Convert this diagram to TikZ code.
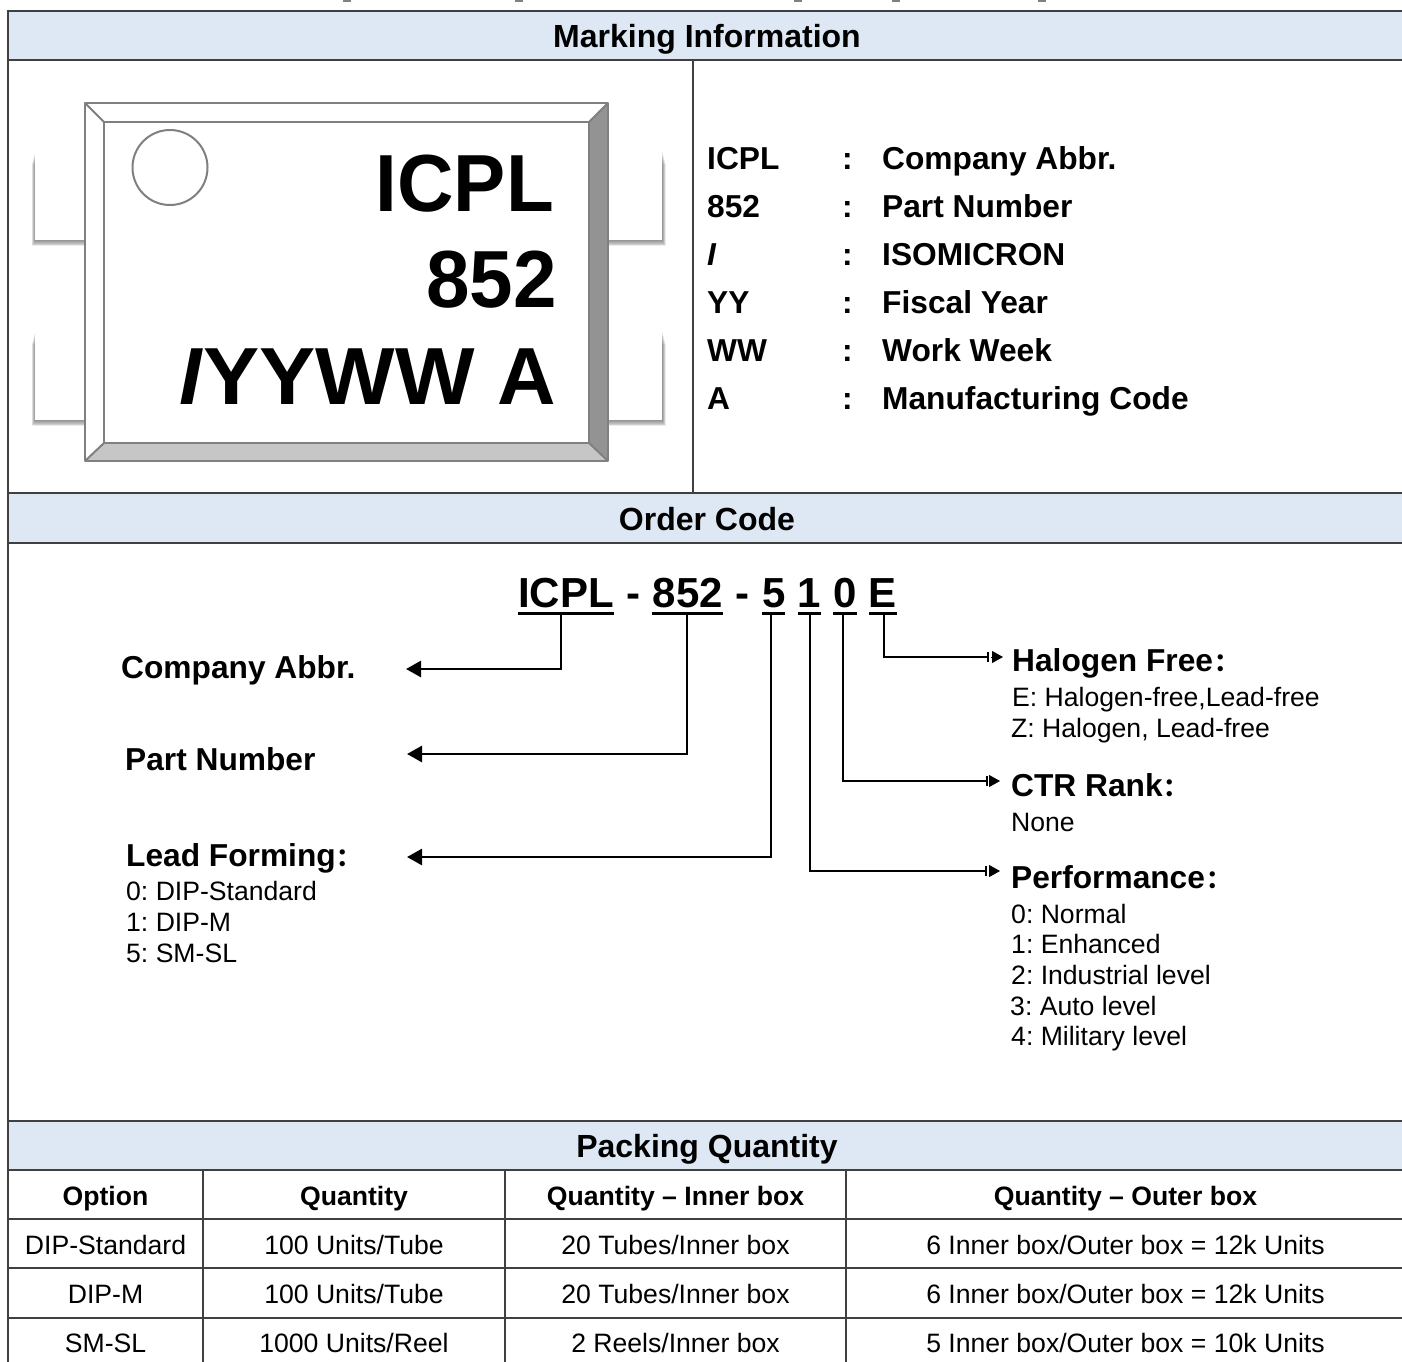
\documentclass[tikz,border=0pt]{standalone}
\usepackage{fontspec}
\setmainfont{Liberation Sans}
\newfontfamily\cjk{Noto Sans CJK SC}
\usetikzlibrary{arrows.meta}
\frenchspacing
\definecolor{bandblue}{HTML}{DDE8F4}
\definecolor{rulegray}{HTML}{404040}
\definecolor{pkggray}{HTML}{808080}
\newcommand{\widecolon}{{\cjk\fontsize{25}{25}\selectfont\kern1pt：}}
\tikzset{
  band/.style={fill=bandblue,draw=rulegray,line width=1.6pt},
  rulegrid/.style={draw=rulegray,line width=1.6pt},
  pkgline/.style={draw=pkggray,line width=2pt,line join=round},
  base/.style={inner sep=0pt,anchor=base west},
  headtxt/.style={inner sep=0pt,anchor=base,font=\bfseries\fontsize{32}{32}\selectfont},
  marktxt/.style={inner sep=0pt,anchor=base east,font=\bfseries\fontsize{81}{81}\selectfont},
  boldtxt/.style={base,font=\bfseries\fontsize{31.7}{32}\selectfont},
  smalltxt/.style={base,font=\fontsize{26.6}{26.6}\selectfont},
  cell/.style={inner sep=0pt,anchor=base,font=\fontsize{26.6}{26.6}\selectfont},
  cellhead/.style={inner sep=0pt,anchor=base,font=\bfseries\fontsize{26.6}{26.6}\selectfont},
  codepart/.style={inner xsep=0pt,inner ysep=6.5pt,anchor=base,text depth=0pt,font=\bfseries\fontsize{42}{42}\selectfont},
  underl/.style={line width=3.5pt},
  toleft/.style={line width=2.7pt,-{Triangle[length=15pt,width=16pt]}},
  stem/.style={line width=2.7pt},
  stembar/.style={line width=2pt},
  tiptri/.style={line width=1pt,-{Triangle[length=11pt,width=12pt]}}
}
\begin{document}
\begin{tikzpicture}[x=1pt,y=-1pt]
    \useasboundingbox (0,0) rectangle (1402,1361);
    % frame and bands
    \fill[white] (0,0) rectangle (1402,1361);
    \foreach \x in {347,519,798,896,1042}
      \fill[gray] (\x-4,0) rectangle (\x+4,1.5);
    \foreach \a/\b in {11/60,493/543,1121/1170}
      \draw[band] (1410,\a) -- (8,\a) -- (8,\b) -- (1410,\b);
    \draw[rulegrid] (8,11) -- (8,1370);
    \draw[rulegrid] (693,60) -- (693,493);
    \foreach \y in {1219,1268,1318}
      \draw[rulegrid] (8,\y) -- (1410,\y);
    \foreach \x in {203,505,846}
      \draw[rulegrid] (\x,1170) -- (\x,1370);
    \node[headtxt] (headMark) at (707,47) {Marking Information};
    \node[headtxt] (headOrder) at (707,530) {Order Code};
    \node[headtxt] (headPack) at (707,1157) {Packing Quantity};
    % pins
    \foreach \y in {150,330} {
      \foreach \s in {1,...,7}
        \fill[black,opacity=0.07] (35-\s*0.5,\y+\s*2) rectangle (86,\y+90+\s*0.9);
      \foreach \s in {1,...,7}
        \fill[black,opacity=0.07] (608,\y+\s*2) rectangle (662+\s*0.5,\y+90+\s*0.9);
      \fill[white] (35,\y) rectangle (86,\y+90);
      \fill[white] (608,\y) rectangle (662,\y+90);
    }
    % package body
    \fill[white] (85,103) rectangle (608,461);
    \fill[gray!85] (608,103) -- (608,461) -- (589,443) -- (589,122) -- cycle;
    \fill[gray!45] (85,461) -- (608,461) -- (589,443) -- (104,443) -- cycle;
    \draw[pkgline] (85,103) rectangle (608,461);
    \draw[pkgline] (104,122) rectangle (589,443);
    \draw[pkgline] (85,103) -- (104,122);
    \draw[pkgline] (608,103) -- (589,122);
    \draw[pkgline] (85,461) -- (104,443);
    \draw[pkgline] (608,461) -- (589,443);
    \draw[pkgline] (170,167.5) circle (37.5);
    \node[marktxt] (markOne) at (554,211) {\scalebox{0.965}[1]{ICPL}};
    \node[marktxt] (markTwo) at (557,307) {\scalebox{0.965}[1]{852}};
    \node[marktxt] (markThree) at (556,404) {\textit{I}\scalebox{1.04}[1]{YYWW} A};
    % marking legend
    \foreach \n/\k/\v [count=\i] in {ICPL/ICPL/Company Abbr.,852/852/Part Number,I/\textit{I}/ISOMICRON,YY/YY/Fiscal Year,WW/WW/Work Week,A/A/Manufacturing Code} {
      \node[boldtxt] (key\n) at (707,121+\i*48) {\k};
      \node[boldtxt] (colon\n) at (842,121+\i*48) {:};
      \node[boldtxt] (val\n) at (882,121+\i*48) {\v};
    }
    % order code
    \node[codepart] (partICPL) at (566,607) {ICPL};
    \node[codepart] (dashA) at (633,607) {-};
    \node[codepart] (part852) at (688,607) {852};
    \node[codepart] (dashB) at (742,607) {-};
    \node[codepart] (partFive) at (774,607) {5};
    \node[codepart] (partOne) at (809,607) {1};
    \node[codepart] (partZero) at (845,607) {0};
    \node[codepart] (partE) at (882,607) {E};
    \foreach \l/\r in {518/614,652/723,762/785,798/821,833/857,869/897}
      \draw[underl] (\l,613.5) -- (\r,613.5);
    \coordinate (tipAbbr) at (406,669);
    \coordinate (tipPart) at (407,754);
    \coordinate (tipLead) at (407,857);
    \draw[toleft] (561,613.5) |- (tipAbbr);
    \draw[toleft] (687,613.5) |- (tipPart);
    \draw[toleft] (771,613.5) |- (tipLead);
    \foreach \n/\s/\b/\t/\y in {Halo/884/988/1003/657,Ctr/843/987/1000/781,Perf/810/986/1000/871} {
      \coordinate (bar\n) at (\b,\y);
      \coordinate (tip\n) at (\t,\y);
      \draw[stem] (\s,613.5) |- (bar\n);
      \draw[stembar] ([yshift=-5pt]bar\n) -- ([yshift=5pt]bar\n);
      \draw[tiptri] ([xshift=3pt]bar\n) -- (tip\n);
    }
    % left labels
    \node[boldtxt] (lblAbbr) at (121,678) {Company Abbr.};
    \node[boldtxt] (lblPart) at (125,770) {Part Number};
    \node[boldtxt] (lblLead) at (126,866) {Lead Forming\widecolon};
    \node[smalltxt] (leadA) at (126,900) {0: DIP-Standard};
    \node[smalltxt] (leadB) at (126,931) {1: DIP-M};
    \node[smalltxt] (leadC) at (126,962) {5: SM-SL};
    % right labels
    \node[boldtxt] (lblHalo) at (1012,671) {Halogen Free\widecolon};
    \node[smalltxt] (haloE) at (1012,706) {E: Halogen-free,Lead-free};
    \node[smalltxt] (haloZ) at (1011,737) {Z: Halogen, Lead-free};
    \node[boldtxt] (lblCtr) at (1011,796) {CTR Rank\widecolon};
    \node[smalltxt] (ctrNone) at (1011,831) {None};
    \node[boldtxt] (lblPerf) at (1011,888) {Performance\widecolon};
    \node[smalltxt] (perfA) at (1011,923) {0: Normal};
    \node[smalltxt] (perfB) at (1011,953) {1: Enhanced};
    \node[smalltxt] (perfC) at (1011,984) {2: Industrial level};
    \node[smalltxt] (perfD) at (1010,1015) {3: Auto level};
    \node[smalltxt] (perfE) at (1011,1045) {4: Military level};
    % packing table
    \node[cellhead] (thOpt) at (105.5,1205) {Option};
    \node[cellhead] (thQty) at (354,1205) {Quantity};
    \node[cellhead] (thInner) at (675.5,1205) {Quantity – Inner box};
    \node[cellhead] (thOuter) at (1125.5,1205) {Quantity – Outer box};
    \foreach \o/\q/\n/\u [count=\i] in {DIP-Standard/100 Units\slash Tube/20 Tubes\slash Inner box/6 Inner box\slash Outer box = 12k Units,
        DIP-M/100 Units\slash Tube/20 Tubes\slash Inner box/6 Inner box\slash Outer box = 12k Units,
        SM-SL/1000 Units\slash Reel/2 Reels\slash Inner box/5 Inner box\slash Outer box = 10k Units} {
      \node[cell] (opt\i) at (105.5,1205+\i*49) {\o};
      \node[cell] (qty\i) at (354,1205+\i*49) {\q};
      \node[cell] (inner\i) at (675.5,1205+\i*49) {\n};
      \node[cell] (outer\i) at (1125.5,1205+\i*49) {\u};
    }
\end{tikzpicture}
\end{document}
